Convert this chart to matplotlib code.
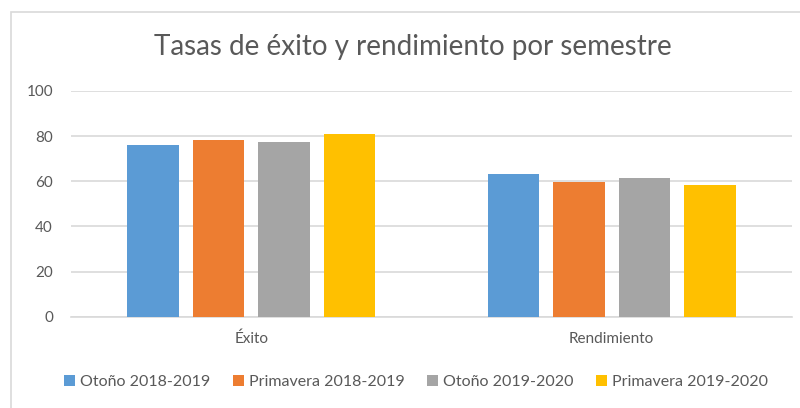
import numpy as np
import matplotlib.pyplot as plt
from matplotlib.patches import Rectangle

categories = ['Éxito', 'Rendimiento']
series = ['Otoño 2018-2019', 'Primavera 2018-2019', 'Otoño 2019-2020', 'Primavera 2019-2020']
values = [
    [76.0, 63.3],   # Otoño 2018-2019
    [78.3, 59.8],   # Primavera 2018-2019
    [77.6, 61.3],   # Otoño 2019-2020
    [81.1, 58.3],   # Primavera 2019-2020
]
colors = ['#5B9BD5', '#ED7D31', '#A5A5A5', '#FFC000']
text_color = '#595959'

plt.rcParams['font.family'] = ['Lato', 'DejaVu Sans']

fig = plt.figure(figsize=(8, 4.08), dpi=100)
ax = fig.add_axes([0.08875, 0.2238, 0.90125, 0.5532])

x = np.arange(len(categories))
slot = 0.1817
width = 0.144
for i, (name, vals) in enumerate(zip(series, values)):
    ax.bar(x + (i - 1.5) * slot, vals, width, color=colors[i], label=name, zorder=3)

ax.set_xlim(-0.5, 1.5)
ax.set_ylim(0, 100)
ax.set_yticks(range(0, 101, 20))
ax.set_xticks(x)
ax.set_xticklabels(categories)
ax.yaxis.grid(True, color='#D9D9D9', linewidth=1.2, zorder=0)
for s in ['top', 'right', 'left']:
    ax.spines[s].set_visible(False)
ax.spines['bottom'].set_color('#D9D9D9')
ax.spines['bottom'].set_linewidth(1.2)
ax.tick_params(axis='both', length=0, colors=text_color, labelsize=11)
ax.tick_params(axis='y', pad=13)
ax.tick_params(axis='x', pad=11)

fig.text(0.516, 0.885, 'Tasas de éxito y rendimiento por semestre',
         ha='center', va='center', fontsize=20, color=text_color)

fig.legend(loc='center', bbox_to_anchor=(0.52, 0.063), ncol=4, frameon=False,
           fontsize=11.5, handlelength=0.7, handleheight=0.7, handletextpad=0.3,
           columnspacing=1.4, labelcolor=text_color)

# chart frame (top and left edge visible in the cropped screenshot)
fig.add_artist(Rectangle((11 / 800, -0.1), 1.2, 1 - 12 / 408 + 0.1, transform=fig.transFigure,
                         fill=False, edgecolor='#D9D9D9', linewidth=1.2))

fig.savefig('out.png', dpi=100)
